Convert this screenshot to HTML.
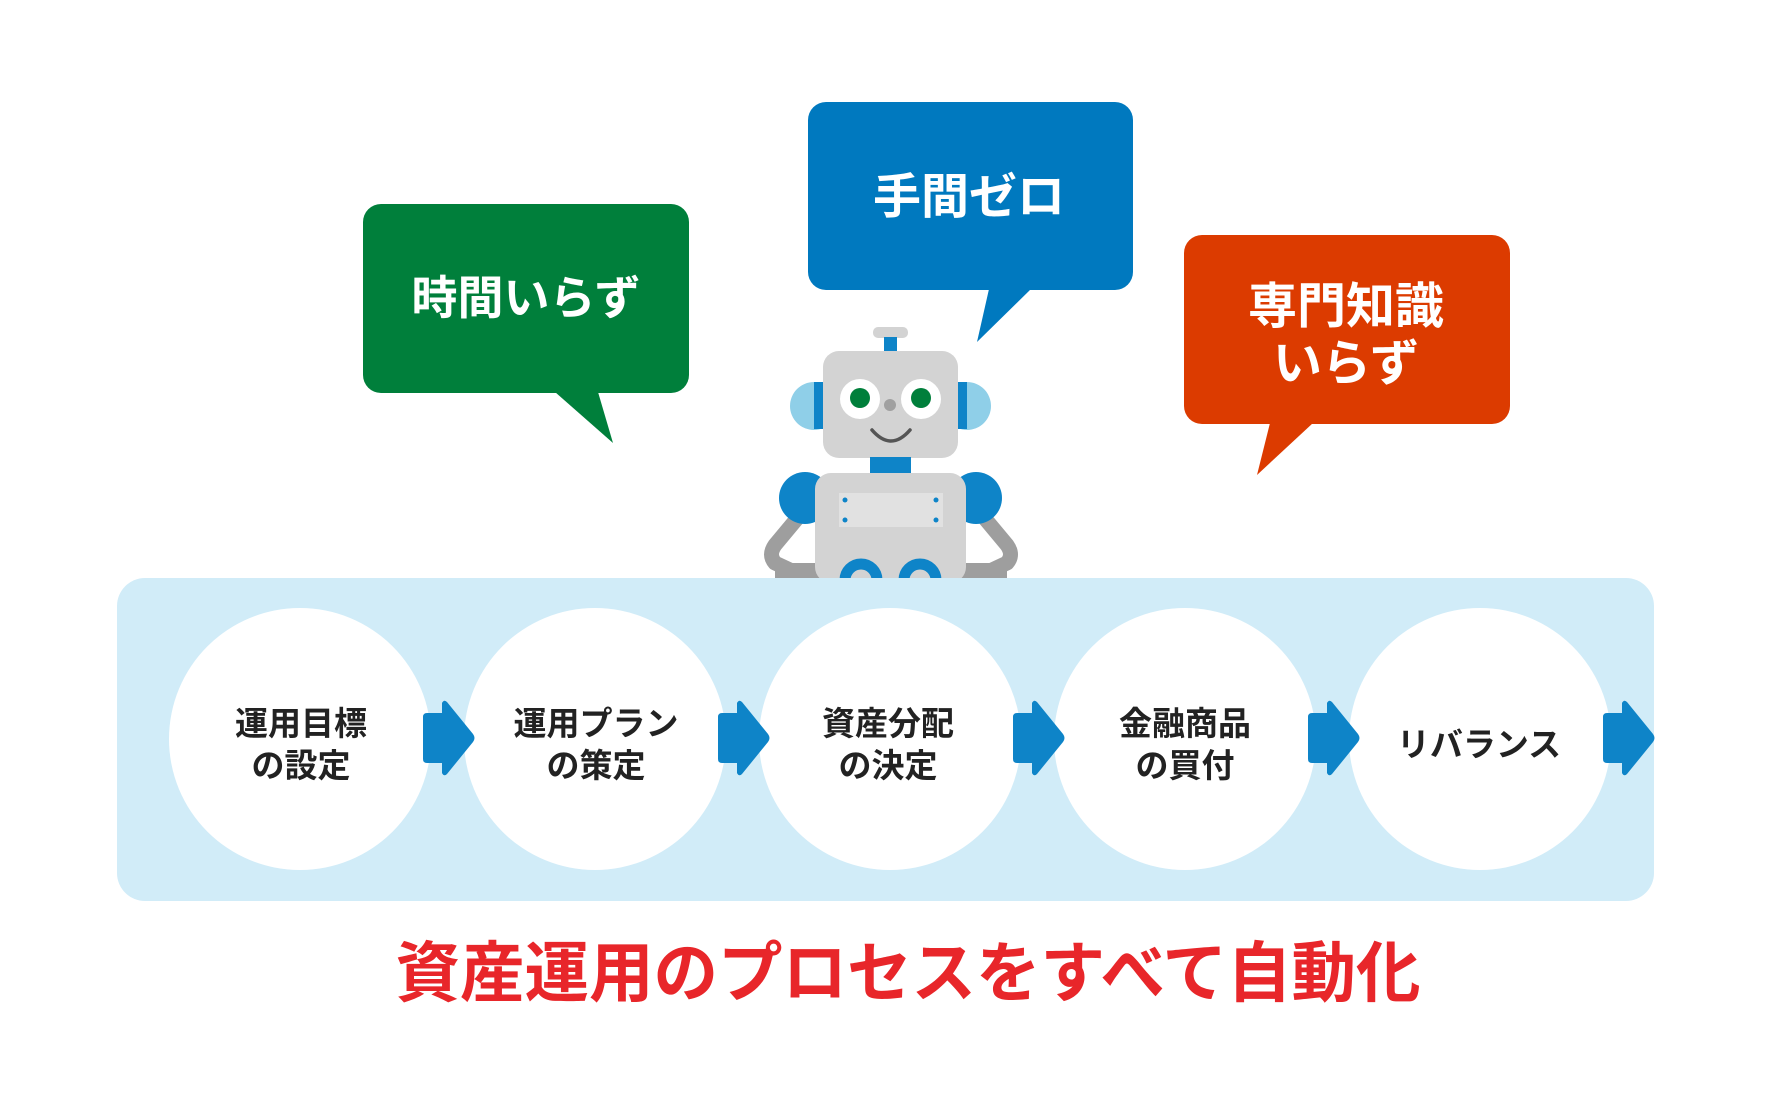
<!DOCTYPE html>
<html><head><meta charset="utf-8"><style>
html,body{margin:0;padding:0;background:#fff;}
svg{display:block;}
text{font-family:"Liberation Sans","Noto Sans CJK JP",sans-serif;font-weight:bold;}
</style></head><body>
<svg width="1782" height="1114" viewBox="0 0 1782 1114" xmlns="http://www.w3.org/2000/svg">
<rect x="363" y="204" width="326" height="189" rx="18" fill="#007f3b"/>
<polygon points="555,392 613,443 598,392" fill="#007f3b"/>
<text x="526" y="314" font-size="46" fill="#fff" text-anchor="middle">時間いらず</text>

<rect x="808" y="102" width="325" height="188" rx="18" fill="#0079bf"/>
<polygon points="989,289 977,342 1031,289" fill="#0079bf"/>
<text x="969" y="213" font-size="48" fill="#fff" text-anchor="middle">手間ゼロ</text>

<rect x="1184" y="235" width="326" height="189" rx="18" fill="#dc3b00"/>
<polygon points="1270,423 1257,475 1313,423" fill="#dc3b00"/>
<text x="1346" y="323" font-size="49" fill="#fff" text-anchor="middle">専門知識</text>
<text x="1346" y="380" font-size="49" fill="#fff" text-anchor="middle">いらず</text>

<g>
<path d="M800,515 L775,545 Q768,555 775,563 L790,570" fill="none" stroke="#9e9e9e" stroke-width="15" stroke-linejoin="round"/>
<path d="M982,515 L1007,545 Q1014,555 1007,563 L992,570" fill="none" stroke="#9e9e9e" stroke-width="15" stroke-linejoin="round"/>
<rect x="775" y="563" width="232" height="15" fill="#9e9e9e"/>
<rect x="873" y="327" width="35" height="11" rx="5" fill="#d3d3d3"/>
<rect x="884" y="337" width="13" height="15" fill="#0e84c8"/>
<circle cx="814" cy="406" r="24" fill="#8fcfe8"/>
<rect x="814" y="382" width="10" height="47" fill="#0e84c8"/>
<circle cx="967" cy="406" r="24" fill="#8fcfe8"/>
<rect x="957" y="382" width="10" height="47" fill="#0e84c8"/>
<rect x="823" y="351" width="135" height="107" rx="16" fill="#d3d3d3"/>
<circle cx="860" cy="399" r="20" fill="#fff"/><circle cx="921" cy="399" r="20" fill="#fff"/>
<circle cx="860" cy="398" r="10" fill="#007f3b"/><circle cx="921" cy="398" r="10" fill="#007f3b"/>
<circle cx="890" cy="405" r="6" fill="#a0a0a0"/>
<path d="M872,430 Q891,452 910,430" fill="none" stroke="#555" stroke-width="3.5" stroke-linecap="round"/>
<rect x="870" y="457" width="41" height="17" fill="#0e84c8"/>
<circle cx="805" cy="498" r="26" fill="#0e84c8"/>
<circle cx="976" cy="498" r="26" fill="#0e84c8"/>
<rect x="815" y="473" width="151" height="110" rx="16" fill="#d3d3d3"/>
<rect x="839" y="493" width="104" height="34" fill="#e1e1e1"/>
<circle cx="845" cy="500" r="2.5" fill="#0e84c8"/><circle cx="845" cy="520" r="2.5" fill="#0e84c8"/>
<circle cx="936" cy="500" r="2.5" fill="#0e84c8"/><circle cx="936" cy="520" r="2.5" fill="#0e84c8"/>
<circle cx="861" cy="580" r="16" fill="none" stroke="#0e84c8" stroke-width="11"/>
<circle cx="920" cy="580" r="16" fill="none" stroke="#0e84c8" stroke-width="11"/>
</g>

<rect x="117" y="578" width="1537" height="323" rx="28" fill="#d1ecf8"/>
<g fill="#fff">
<circle cx="300" cy="739" r="131"/><circle cx="595" cy="739" r="131"/><circle cx="890" cy="739" r="131"/><circle cx="1185" cy="739" r="131"/><circle cx="1480" cy="739" r="131"/>
</g>
<g fill="#0e84c8">
<path id="ar" d="M427,713 L442,713 L442,703 Q444,699 447,702 L473,734 Q476,738 473,742 L447,774 Q444,777 442,773 L442,763 L427,763 Q423,763 423,759 L423,717 Q423,713 427,713 Z"/>
<use href="#ar" x="295"/><use href="#ar" x="590"/><use href="#ar" x="885"/><use href="#ar" x="1180"/>
</g>
<g font-size="33" fill="#222" text-anchor="middle">
<text x="301" y="735">運用目標</text><text x="301" y="777">の設定</text>
<text x="596" y="735">運用プラン</text><text x="596" y="777">の策定</text>
<text x="888" y="735">資産分配</text><text x="888" y="777">の決定</text>
<text x="1185" y="735">金融商品</text><text x="1185" y="777">の買付</text>
<text x="1479" y="756">リバランス</text>
</g>
<text x="908" y="996" font-size="66" fill="#e8262a" text-anchor="middle" textLength="1025" lengthAdjust="spacingAndGlyphs">資産運用のプロセスをすべて自動化</text>
</svg>
</body></html>
